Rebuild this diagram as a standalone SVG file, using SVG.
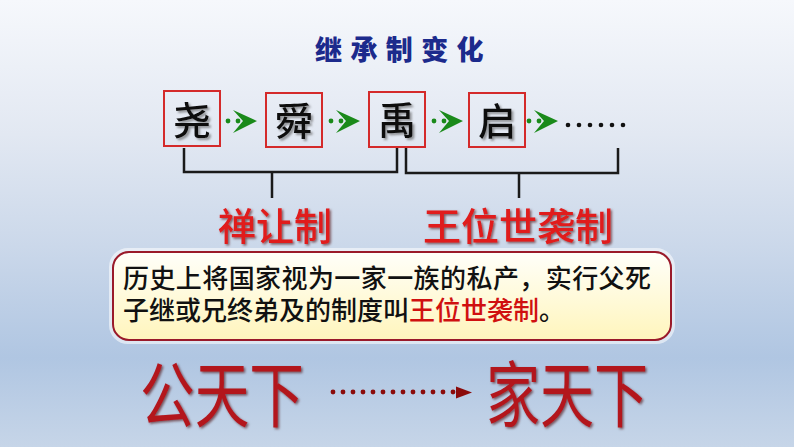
<svg xmlns="http://www.w3.org/2000/svg" width="794" height="447" viewBox="0 0 794 447">
<style>
.cjk{font-family:"Noto Sans CJK SC","Noto Sans CJK TC",sans-serif}
.box{fill:none;stroke:#d42a2a;stroke-width:2}
.ch{font-size:38px;fill:#111;font-weight:500;text-anchor:middle}
.br{fill:none;stroke:#1a1a1a;stroke-width:2.5}
.lbl{font-size:38px;fill:#e01a1a;font-weight:500}
.big{font-size:72px;fill:#b3141c;font-weight:400}
.body{font-size:26px;fill:#111;font-weight:500}
.gdot{fill:#1a8a1a}
</style>
<defs>
<linearGradient id="bg" x1="0" y1="0" x2="0" y2="1">
<stop offset="0" stop-color="#f6f8fc"/>
<stop offset="0.3" stop-color="#e2e8f2"/>
<stop offset="0.55" stop-color="#cbd8ea"/>
<stop offset="0.8" stop-color="#b0c6e2"/>
<stop offset="1" stop-color="#c6d5e8"/>
</linearGradient>
<linearGradient id="yel" x1="0" y1="0" x2="0" y2="1">
<stop offset="0" stop-color="#fffffa"/>
<stop offset="1" stop-color="#fff5bc"/>
</linearGradient>
<filter id="sh" x="-10%" y="-10%" width="130%" height="130%">
<feDropShadow dx="2" dy="2" stdDeviation="1" flood-color="#555" flood-opacity="0.6"/>
</filter>
<filter id="shr" x="-10%" y="-10%" width="130%" height="130%">
<feDropShadow dx="1.5" dy="1.5" stdDeviation="0.8" flood-color="#400" flood-opacity="0.6"/>
</filter>
<g id="garrow">
<circle class="gdot" cx="0" cy="0" r="2.4"/>
<circle class="gdot" cx="10" cy="0" r="2.4"/>
<polygon class="gdot" points="5,-11 29,0 5,12 15,0"/>
</g>
</defs>
<rect x="0" y="0" width="794" height="447" fill="url(#bg)"/>

<text class="cjk" x="315" y="60" font-size="27" font-weight="900" fill="#1c2a8c" letter-spacing="8.4">继承制变化</text>

<g id="node-yao"><rect class="box" x="164" y="91" width="56" height="55"/><text class="cjk ch" x="192" y="134" filter="url(#sh)">尧</text></g>
<g id="node-shun"><rect class="box" x="266" y="93" width="56" height="54"/><text class="cjk ch" x="294" y="135" filter="url(#sh)">舜</text></g>
<g id="node-yu"><rect class="box" x="369" y="92" width="56" height="55"/><text class="cjk ch" x="397" y="134" filter="url(#sh)">禹</text></g>
<g id="node-qi"><rect class="box" x="469" y="93" width="56" height="54"/><text class="cjk ch" x="497" y="135" filter="url(#sh)">启</text></g>
<g id="node-more" fill="#111">
<circle cx="568" cy="125" r="2.3"/><circle cx="579" cy="125" r="2.3"/><circle cx="590" cy="125" r="2.3"/><circle cx="601" cy="125" r="2.3"/><circle cx="612" cy="125" r="2.3"/><circle cx="623" cy="125" r="2.3"/>
</g>

<g id="connectors">
<use href="#garrow" x="228" y="121"/>
<use href="#garrow" x="331" y="121"/>
<use href="#garrow" x="434" y="121"/>
<use href="#garrow" x="529" y="121"/>
<path class="br" d="M184,148 V172 H397 V148 M272,172 V198"/>
<path class="br" d="M406,148 V173 H618 V148 M519,173 V198"/>
<g fill="#8b0a0a">
<circle cx="333" cy="392" r="2.4"/><circle cx="343" cy="392" r="2.4"/><circle cx="353" cy="392" r="2.4"/><circle cx="363" cy="392" r="2.4"/><circle cx="373" cy="392" r="2.4"/><circle cx="383" cy="392" r="2.4"/><circle cx="393" cy="392" r="2.4"/><circle cx="403" cy="392" r="2.4"/><circle cx="413" cy="392" r="2.4"/><circle cx="423" cy="392" r="2.4"/><circle cx="433" cy="392" r="2.4"/><circle cx="443" cy="392" r="2.4"/><circle cx="453" cy="392" r="2.4"/>
<polygon points="456,386.5 472,392.5 456,398.5"/>
</g>
</g>

<g id="label-shanrang"><text class="cjk lbl" x="218" y="240" filter="url(#shr)">禅让制</text></g>
<g id="label-shixi"><text class="cjk lbl" x="423" y="240" filter="url(#shr)">王位世袭制</text></g>

<g id="note">
<rect x="111" y="250" width="562" height="92" rx="17" fill="none" stroke="#ffffff" stroke-opacity="0.55" stroke-width="4"/>
<rect x="113" y="252" width="558" height="88" rx="16" fill="url(#yel)" stroke="#9a1a2a" stroke-width="2"/>
<text class="cjk body" x="123" y="288" textLength="528" lengthAdjust="spacing">历史上将国家视为一家一族的私产，实行父死</text>
<text class="cjk body" x="123" y="319.5">子继或兄终弟及的制度叫<tspan fill="#d01010">王位世袭制</tspan>。</text>
</g>

<g id="node-gongtianxia"><text class="cjk big" x="140" y="421" textLength="164" lengthAdjust="spacingAndGlyphs" filter="url(#shr)">公天下</text></g>
<g id="node-jiatianxia"><text class="cjk big" x="486" y="421" textLength="162" lengthAdjust="spacingAndGlyphs" filter="url(#shr)">家天下</text></g>
</svg>
